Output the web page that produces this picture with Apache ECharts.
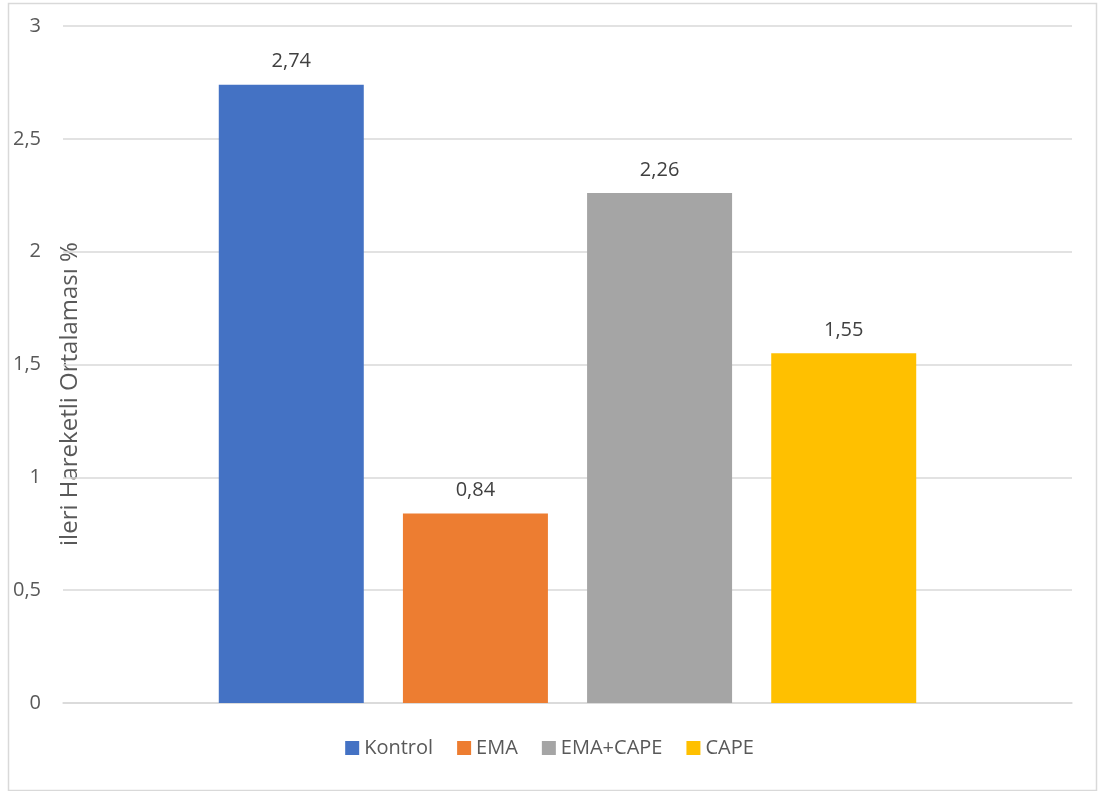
<!DOCTYPE html>
<html>
<head>
<meta charset="utf-8">
<script src="https://cdn.jsdelivr.net/npm/echarts@6/dist/echarts.min.js"></script>
<style>
  html, body { margin: 0; padding: 0; background: #ffffff; }
  #chart { width: 1099px; height: 791px; }
</style>
</head>
<body>
<div id="chart"></div>
<script>
// Groups and their mean values
const groups = ['Kontrol', 'EMA', 'EMA+CAPE', 'CAPE'];
const values = [2.74, 0.84, 2.26, 1.55];
const colors = ['#4472C4', '#ED7D31', '#A5A5A5', '#FFC000'];
const yTicks = { min: 0, max: 3, interval: 0.5 };
const yTitle = 'ileri Hareketli Ortalaması %';

const fmt = v => String(v).replace('.', ',');
const font = '"Open Sans", "Noto Sans", sans-serif';

const chart = echarts.init(document.getElementById('chart'), null, { renderer: 'canvas' });

const series = groups.map((g, i) => ({
  name: g,
  type: 'bar',
  data: [values[i]],
  barWidth: 145,
  barGap: '27%',
  itemStyle: { color: colors[i] },
  label: {
    show: true,
    position: 'top',
    distance: 13,
    formatter: p => fmt(p.value),
    color: '#404040',
    fontFamily: font,
    fontSize: 20
  }
}));

chart.setOption({
  animation: false,
  backgroundColor: '#ffffff',
  grid: { left: 63, right: 27, top: 26, bottom: 88, containLabel: false },
  legend: {
    data: groups,
    bottom: 28,
    left: 'center',
    itemWidth: 14,
    itemHeight: 14,
    itemGap: 24,
    icon: 'rect',
    textStyle: { color: '#595959', fontFamily: font, fontSize: 20 }
  },
  xAxis: {
    type: 'category',
    data: [''],
    axisLine: { show: true, lineStyle: { color: '#d9d9d9', width: 1.5 } },
    axisTick: { show: false },
    axisLabel: { show: false }
  },
  yAxis: {
    type: 'value',
    min: yTicks.min,
    max: yTicks.max,
    interval: yTicks.interval,
    axisLine: { show: false },
    axisTick: { show: false },
    splitLine: { lineStyle: { color: '#d9d9d9', width: 1.5 } },
    axisLabel: {
      formatter: v => fmt(v),
      color: '#595959',
      fontFamily: font,
      fontSize: 20,
      margin: 22
    }
  },
  graphic: [
    {
      type: 'rect',
      left: 6, top: 1,
      shape: { width: 1088, height: 787 },
      style: { fill: 'none', stroke: '#d9d9d9', lineWidth: 1.5 },
      silent: true
    },
    {
      type: 'text',
      x: 70, y: 394,
      rotation: Math.PI / 2,
      style: {
        text: yTitle,
        fill: '#595959',
        font: '24px ' + font,
        align: 'center',
        verticalAlign: 'middle'
      },
      silent: true
    }
  ],
  series: series
});
</script>
</body>
</html>
